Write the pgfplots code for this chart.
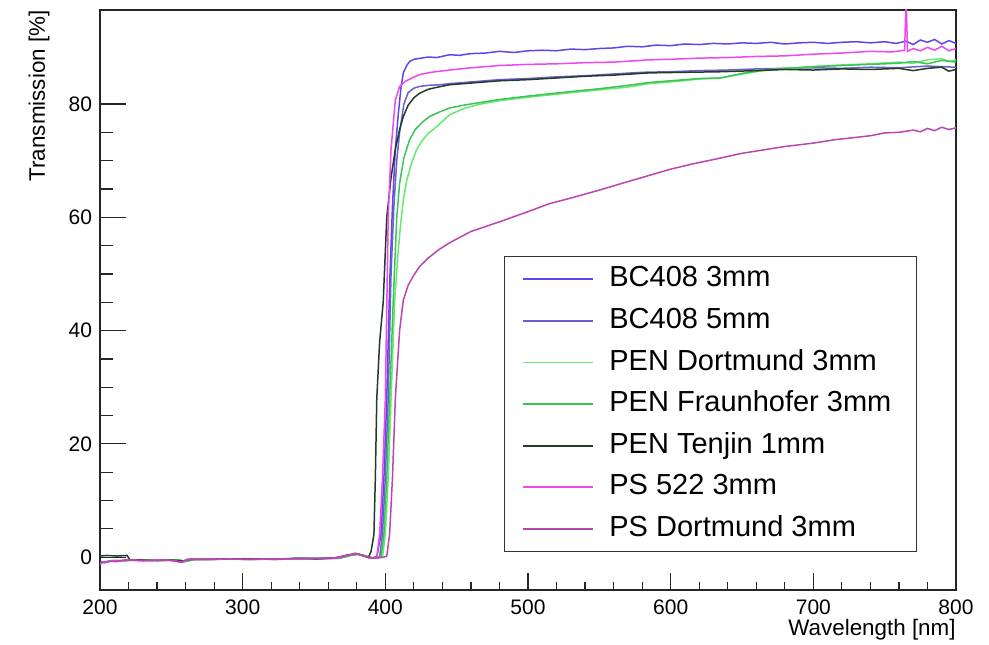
\documentclass[border=0pt]{standalone}
\usepackage{pgfplots}
\pgfplotsset{compat=1.18}
\usepackage{fontspec}
\setmainfont{Liberation Sans}
\definecolor{bcA}{RGB}{95,70,235}
\definecolor{bcB}{RGB}{105,95,205}
\definecolor{penD}{RGB}{100,235,110}
\definecolor{penF}{RGB}{60,195,85}
\definecolor{penT}{RGB}{35,60,40}
\definecolor{psA}{RGB}{240,70,240}
\definecolor{psD}{RGB}{185,70,175}
\begin{document}
\begin{tikzpicture}
\path[use as bounding box] (-50pt,-27pt) rectangle (444.5pt,295pt);
\begin{axis}[
  scale only axis,
  width=428pt, height=290pt,
  xmin=200, xmax=800,
  ymin=-5.8, ymax=96.6,
  xtick={200,300,...,800},
  ytick={0,20,...,80},
  minor x tick num=4,
  minor y tick num=3,
  tick align=inside,
  tick pos=left,
  xtick style={/pgfplots/major tick length=8.5pt,/pgfplots/minor tick length=4pt},
  ytick style={/pgfplots/major tick length=13pt,/pgfplots/minor tick length=6.7pt},
  every tick/.style={black!85,line width=0.6pt},
  axis line style={black!85,line width=0.6pt},
  /pgf/number format/assume math mode=true,
  ticklabel style={font=\fontsize{10.5}{12}\selectfont},
  xticklabel style={yshift=-1.5pt},
  yticklabel style={xshift=-0.5pt},
  xlabel={Wavelength [nm]},
  ylabel={Transmission [\%]},
  every axis x label/.style={at={(rel axis cs:1,0)},anchor=base east,inner sep=0pt,yshift=-22.5pt,font=\fontsize{11.2}{13}\selectfont},
  every axis y label/.style={at={(rel axis cs:0,1)},rotate=90,anchor=base east,inner sep=0pt,yshift=27.5pt,font=\fontsize{11.2}{13}\selectfont},
  legend style={at={(0.9544,0.0655)},anchor=south east,draw=black!80,line width=0.6pt,
    font=\fontsize{14.5}{17}\selectfont,inner xsep=8.5pt,inner ysep=3.5pt,
    row sep=5.3pt,column sep=7pt,
    nodes={inner sep=1pt,text height=10.5pt,text depth=3pt}},
  legend cell align=left,
  legend image code/.code={\draw[#1,line width=0.85pt] (0pt,0pt) -- (35pt,0pt);},
  every axis plot/.append style={line width=0.75pt},
]
% BC408 3mm
\addplot[bcA] coordinates {
(200,-1.2)(201,-0.8)(204,-0.9)(208,-0.6)(213,-0.7)(220,-0.5)(230,-0.6)(240,-0.5)(250,-0.5)(258,-0.8)(262,-0.4)(275,-0.4)(290,-0.3)(305,-0.4)(320,-0.3)(340,-0.3)(355,-0.2)(368,-0.2)(375,0.3)(380,0.6)(385,0.3)(390,-0.2)(394,0.1)(397,4)(399,14)(401,28)(403,48)(405,62)(407,72)(409,78)(411,83)(412.6,85.5)(415,86.8)(417,87.5)(420,87.9)(425,88.1)(430,88.3)(436,88.2)(445,88.7)(452,88.6)(460,88.9)(470,89.0)(480,89.3)(490,89.1)(500,89.4)(510,89.5)(520,89.4)(530,89.7)(540,89.6)(550,89.8)(560,89.9)(570,90.2)(580,90.1)(590,90.4)(600,90.3)(610,90.6)(620,90.5)(630,90.7)(640,90.6)(650,90.8)(660,90.7)(670,90.9)(680,90.6)(690,90.8)(700,90.9)(710,90.7)(720,90.9)(730,91.0)(740,90.8)(750,91.0)(758,90.7)(765,91.1)(770,90.5)(775,91.3)(780,90.9)(785,91.4)(790,90.6)(795,91.2)(800,90.7)
};
\addlegendentry{\makebox[144pt][l]{BC408 3mm}}
% BC408 5mm
\addplot[bcB] coordinates {
(200,-1.1)(202,-0.8)(205,-0.8)(210,-0.6)(216,-0.6)(222,-0.5)(232,-0.5)(242,-0.6)(252,-0.5)(260,-0.7)(265,-0.4)(280,-0.4)(295,-0.3)(310,-0.3)(325,-0.4)(340,-0.2)(355,-0.3)(368,-0.1)(375,0.4)(381,0.5)(386,0.2)(392,-0.2)(396,0)(398,4)(400,14)(402,28)(404,50)(406,62)(408,70)(410,75)(413,80)(416,82)(420,82.8)(424,83.1)(430,83.3)(438,83.4)(445,83.6)(460,83.9)(480,84.3)(500,84.5)(520,84.8)(540,85.0)(560,85.3)(580,85.6)(600,85.7)(620,85.9)(640,86.0)(660,86.2)(680,86.3)(700,86.4)(720,86.3)(740,86.5)(760,86.4)(780,86.7)(800,86.5)
};
\addlegendentry{\makebox[144pt][l]{BC408 5mm}}
% PEN Dortmund 3mm
\addplot[penD] coordinates {
(200,-1.2)(202,-0.9)(206,-0.8)(211,-0.6)(217,-0.7)(224,-0.5)(234,-0.5)(244,-0.6)(254,-0.5)(259,-0.8)(264,-0.4)(278,-0.4)(293,-0.3)(308,-0.4)(323,-0.3)(338,-0.3)(353,-0.2)(367,-0.2)(375,0.4)(380,0.6)(386,0.2)(393,-0.2)(398,0)(400,4)(402,14)(404,28)(406.5,45)(409,54)(411,59.5)(412.6,63)(415,66.5)(418,69.3)(422,72)(426,73.6)(430,74.8)(436,76)(445,78.1)(455,79.2)(465,79.9)(480,80.6)(500,81.2)(515,81.6)(530,82.0)(550,82.5)(570,83.0)(585,83.6)(600,83.9)(620,84.4)(635,84.6)(650,85.3)(665,85.9)(680,86.2)(700,86.6)(720,86.9)(740,87.1)(760,87.4)(770,87.2)(780,87.8)(790,88.0)(795,87.5)(800,87.8)
};
\addlegendentry{\makebox[144pt][l]{PEN Dortmund 3mm}}
% PEN Fraunhofer 3mm
\addplot[penF] coordinates {
(200,-1.1)(203,-0.8)(207,-0.7)(212,-0.6)(218,-0.6)(226,-0.5)(236,-0.6)(246,-0.5)(256,-0.5)(260,-0.8)(266,-0.4)(281,-0.3)(296,-0.3)(311,-0.4)(326,-0.3)(341,-0.2)(356,-0.2)(369,-0.1)(376,0.3)(381,0.5)(386,0.2)(392,-0.2)(397,0)(399,4)(401,14)(403,28)(405.5,45)(408,60)(410,66)(413,70.5)(417,73.7)(421,75.5)(426,76.8)(431,77.8)(438,78.6)(445,79.3)(455,79.8)(465,80.2)(480,80.8)(500,81.4)(515,81.8)(530,82.2)(550,82.7)(570,83.3)(585,83.8)(600,84.1)(620,84.5)(635,84.6)(650,85.4)(665,86.0)(680,86.3)(700,86.6)(720,86.8)(740,87.0)(760,87.2)(770,87.5)(780,87.1)(790,87.7)(800,87.4)
};
\addlegendentry{\makebox[144pt][l]{PEN Fraunhofer 3mm}}
% PEN Tenjin 1mm
\addplot[penT] coordinates {
(200,0.2)(205,0.3)(212,0.2)(219,0.3)(221,-0.5)(230,-0.5)(240,-0.6)(250,-0.5)(258,-0.7)(263,-0.4)(277,-0.4)(292,-0.3)(307,-0.3)(322,-0.4)(337,-0.2)(352,-0.3)(366,-0.1)(374,0.4)(380,0.6)(385,0.2)(388,-0.1)(390,1)(392,4)(393,14)(394,28)(396,38)(398.5,45)(401,60)(404,67)(407,72)(410,75.5)(412.6,77.8)(416,79.8)(420,81.1)(424,81.9)(430,82.6)(437,83.0)(445,83.4)(455,83.6)(465,83.8)(480,84.1)(500,84.3)(520,84.6)(540,84.9)(560,85.1)(585,85.5)(610,85.6)(635,85.7)(660,85.9)(680,86.1)(700,86.0)(720,86.2)(740,86.1)(760,86.3)(770,85.9)(780,86.3)(790,86.5)(795,85.8)(800,86.1)
};
\addlegendentry{\makebox[144pt][l]{PEN Tenjin 1mm}}
% PS 522 3mm
\addplot[psA] coordinates {
(200,-1.3)(201,-0.9)(204,-0.9)(209,-0.6)(214,-0.7)(221,-0.5)(231,-0.6)(241,-0.5)(251,-0.6)(258,-0.9)(262,-0.4)(274,-0.4)(289,-0.3)(304,-0.4)(319,-0.3)(334,-0.3)(349,-0.2)(364,-0.2)(374,0.3)(379,0.6)(384,0.3)(390,-0.2)(394,0)(396,4)(398,14)(400,28)(402,60)(404,72)(407,80.7)(410,83.1)(414,84.0)(418,84.5)(424,85.2)(432,85.6)(445,86.0)(460,86.4)(480,86.8)(500,87.0)(520,87.1)(540,87.3)(560,87.4)(585,87.8)(600,87.9)(620,88.1)(640,88.2)(660,88.4)(680,88.5)(700,88.8)(720,89.0)(740,89.3)(755,89.2)(764,89.5)(765,99)(766,89.3)(770,89.8)(775,89.4)(780,90.0)(785,89.5)(790,90.2)(795,89.4)(800,89.8)
};
\addlegendentry{\makebox[144pt][l]{PS 522 3mm}}
% PS Dortmund 3mm
\addplot[psD] coordinates {
(200,-1.4)(201,-0.9)(203,-1.0)(207,-0.7)(211,-0.8)(217,-0.5)(227,-0.6)(237,-0.6)(247,-0.5)(257,-0.9)(261,-0.4)(272,-0.4)(287,-0.3)(302,-0.4)(317,-0.3)(332,-0.3)(347,-0.2)(362,-0.2)(373,0.3)(379,0.7)(384,0.3)(391,-0.2)(399,0)(401,0.2)(403,4)(405,14)(407,28)(409,36)(410,40)(412.6,45.4)(416,48)(420,49.8)(424,51.3)(430,52.8)(437,54.2)(445,55.5)(460,57.5)(480,59.2)(500,61.0)(515,62.4)(530,63.4)(550,64.8)(570,66.3)(585,67.4)(600,68.5)(615,69.4)(632,70.3)(650,71.3)(665,71.9)(680,72.5)(700,73.1)(715,73.7)(726,74.0)(740,74.4)(750,74.9)(760,75.0)(770,75.4)(775,75.1)(780,75.7)(785,75.3)(790,75.9)(795,75.5)(800,75.8)
};
\addlegendentry{\makebox[144pt][l]{PS Dortmund 3mm}}
\end{axis}
\end{tikzpicture}
\end{document}
